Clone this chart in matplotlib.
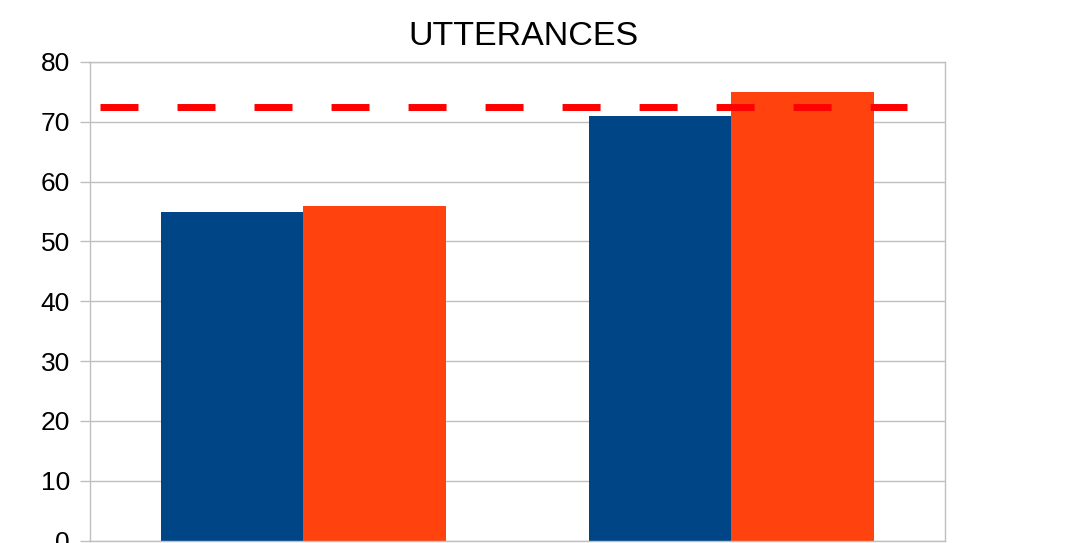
import numpy as np
import matplotlib
matplotlib.use('Agg')
import matplotlib.pyplot as plt

plt.rcParams['font.family'] = ['Liberation Sans', 'DejaVu Sans']

# Two groups, two series per group
categories = ['A', 'B']
series_1 = [55, 71]
series_2 = [56, 75]
reference_level = 72.4
y_ticks = [0, 10, 20, 30, 40, 50, 60, 70, 80]

fig = plt.figure(figsize=(10.79, 5.43), dpi=100)
ax = fig.add_axes([89.5 / 1079, 2.5 / 543, (945 - 89.5) / 1079, (540.5 - 62) / 543])

x = np.arange(len(categories))
w = 1 / 3
ax.bar(x - w / 2, series_1, width=w, color='#004586', zorder=2)
ax.bar(x + w / 2, series_2, width=w, color='#ff420e', zorder=2)

# dashed reference line across the chart
ax.plot([-0.475, 1.412], [reference_level, reference_level], color='#ff0000',
        lw=5, linestyle=(0, (5.47, 5.62)), solid_capstyle='butt',
        dash_capstyle='butt', zorder=3)

ax.set_xlim(-0.5, 1.5)
ax.set_ylim(0, 80)
ax.set_yticks(y_ticks)
ax.set_xticks([])
ax.grid(axis='y', color='#bfbfbf', lw=1, zorder=0)
for side in ['left', 'right', 'top', 'bottom']:
    ax.spines[side].set_color('#bfbfbf')
    ax.spines[side].set_linewidth(1)
ax.tick_params(axis='y', length=7.2, width=1, color='#bfbfbf', pad=7,
               labelsize=19, labelcolor='black')

fig.text(523 / 1079, 1 - 36.5 / 543, 'UTTERANCES', ha='center', va='center', fontsize=24.5)

fig.savefig('out.png', dpi=100)
